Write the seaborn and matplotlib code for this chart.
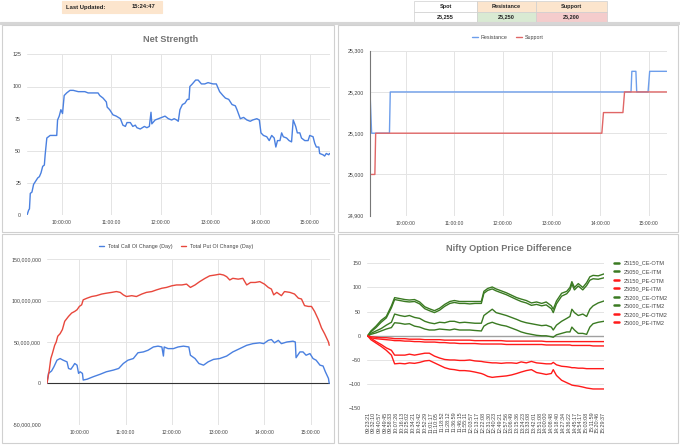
import pandas as pd
import matplotlib
matplotlib.use("Agg")
import matplotlib.pyplot as plt
import matplotlib.dates as mdates
from matplotlib.patches import Rectangle
from matplotlib.ticker import FuncFormatter, MultipleLocator
import seaborn as sns

# ---------------- data ----------------
# header cells
last_updated = "15:24:47"
table_headers = ["Spot", "Resistance", "Support"]
table_values = ["25,255", "25,250", "25,200"]

# Net Strength
ns_times = [
    "09:18", "09:20", "09:21", "09:22", "09:24", "09:26", "09:28", "09:31", "09:33", "09:35",
    "09:37", "09:39", "09:40", "09:42", "09:44", "09:46", "09:50", "09:54", "09:55", "09:57",
    "09:59", "10:01", "10:03", "10:06", "10:10", "10:14", "10:20", "10:24", "10:28", "10:32",
    "10:38", "10:44", "10:46", "10:50", "10:54", "10:55", "10:58", "11:02", "11:06", "11:11",
    "11:14", "11:17", "11:19", "11:23", "11:26", "11:29", "11:31", "11:35", "11:40", "11:43",
    "11:46", "11:48", "11:49", "11:53", "11:57", "12:01", "12:05", "12:09", "12:13", "12:16",
    "12:19", "12:21", "12:23", "12:26", "12:29", "12:32", "12:34", "12:35", "12:38", "12:42",
    "12:45", "12:49", "12:53", "12:57", "13:03", "13:07", "13:09", "13:11", "13:15", "13:18",
    "13:22", "13:24", "13:26", "13:30", "13:32", "13:36", "13:40", "13:44", "13:48", "13:51",
    "13:56", "13:59", "14:01", "14:04", "14:08", "14:11", "14:14", "14:17", "14:19", "14:21",
    "14:24", "14:26", "14:28", "14:32", "14:35", "14:38", "14:40", "14:43", "14:45", "14:48",
    "14:50", "14:54", "14:58", "15:00", "15:04", "15:06", "15:08", "15:11", "15:12", "15:16",
    "15:18", "15:20", "15:23", "15:24",
]
ns_values = [
    0, 4, 5, 17, 18, 24, 26, 29, 30, 33,
    38, 39, 47, 60, 61, 62, 62, 62, 74, 77,
    82, 79, 93, 95, 97, 97, 96, 96, 96, 95,
    95, 95, 93, 91, 88, 84, 82, 78, 77, 75,
    70, 69, 72, 72, 69, 70, 68, 67, 69, 68,
    69, 80, 71, 74, 75, 76, 77, 75, 74, 75,
    74, 73, 82, 86, 87, 90, 90, 100, 102, 105,
    105, 102, 102, 103, 102, 102, 99, 96, 93, 91,
    90, 88, 86, 85, 82, 75, 76, 74, 73, 74,
    75, 74, 64, 62, 61, 58, 62, 60, 53, 58,
    58, 64, 61, 60, 58, 57, 74, 69, 64, 64,
    60, 58, 58, 62, 61, 56, 53, 53, 48, 47,
    46, 48, 47, 48,
]

# Resistance / Support levels
res_times = ["09:16", "09:18", "09:40", "09:41", "14:38", "14:39", "14:44", "14:45", "14:59", "15:01", "15:22"]
res_values = [25200, 25100, 25100, 25200, 25200, 25250, 25250, 25200, 25200, 25250, 25250]
sup_times = ["09:16", "09:22", "09:23", "14:02", "14:04", "14:28", "14:30", "15:22"]
sup_values = [25000, 25000, 25100, 25100, 25150, 25150, 25200, 25200]

# Total OI change (in millions)
put_times = [
    "09:18", "09:21", "09:23", "09:25", "09:28", "09:30", "09:32", "09:35", "09:38", "09:41",
    "09:46", "09:50", "09:54", "09:57", "10:00", "10:03", "10:05", "10:10", "10:16", "10:22",
    "10:29", "10:35", "10:42", "10:48", "10:53", "10:57", "11:01", "11:08", "11:14", "11:21",
    "11:27", "11:34", "11:40", "11:47", "11:53", "12:00", "12:06", "12:13", "12:19", "12:24",
    "12:30", "12:36", "12:43", "12:49", "12:56", "13:02", "13:07", "13:11", "13:15", "13:19",
    "13:26", "13:32", "13:37", "13:42", "13:48", "13:54", "14:00", "14:05", "14:09", "14:12",
    "14:16", "14:22", "14:26", "14:33", "14:39", "14:44", "14:48", "14:52", "14:57", "15:01",
    "15:05", "15:10", "15:14", "15:18", "15:23", "15:24",
]
put_oi_mn = [
    0, 16, 30, 36, 46, 50, 57, 60, 65, 75,
    81, 85, 87, 89, 93, 95, 101, 103, 105, 106,
    108, 109, 110, 111, 110, 107, 105, 106, 105, 108,
    110, 111, 113, 115, 116, 118, 119, 119, 120, 116,
    119, 123, 127, 130, 131, 132, 131, 129, 125, 127,
    126, 127, 119, 122, 122, 123, 120, 116, 114, 107,
    110, 106, 111, 110, 108, 103, 102, 94, 93, 93,
    87, 77, 67, 60, 50, 46,
]
call_times = [
    "09:18", "09:20", "09:24", "09:27", "09:31", "09:35", "09:39", "09:44", "09:46", "09:49",
    "09:52", "09:54", "09:57", "09:59", "10:01", "10:04", "10:05", "10:10", "10:18", "10:27",
    "10:35", "10:44", "10:51", "10:57", "11:03", "11:10", "11:16", "11:23", "11:29", "11:36",
    "11:42", "11:47", "11:49", "11:50", "11:55", "12:02", "12:08", "12:15", "12:22", "12:24",
    "12:30", "12:35", "12:41", "12:47", "12:54", "13:02", "13:11", "13:19", "13:28", "13:37",
    "13:45", "13:54", "13:59", "14:05", "14:09", "14:13", "14:18", "14:22", "14:29", "14:37",
    "14:40", "14:41", "14:46", "14:50", "14:54", "14:59", "15:03", "15:07", "15:12", "15:16",
    "15:19", "15:23", "15:24",
]
call_oi_mn = [
    0, 12, 15, 20, 28, 30, 28, 26, 18, 17,
    21, 24, 22, 12, 14, 12, 4, 5, 8, 11,
    14, 16, 18, 24, 28, 30, 37, 38, 40, 44,
    45, 44, 33, 44, 42, 42, 44, 45, 44, 34,
    30, 24, 22, 26, 29, 30, 33, 38, 42, 46,
    48, 49, 48, 52, 53, 49, 52, 48, 50, 51,
    50, 31, 38, 38, 34, 36, 30, 28, 22, 21,
    14, 6, 0,
]

# Nifty option price difference
opt_times = [
    "09:23", "09:28", "09:36", "09:44", "09:52", "10:00", "10:05", "10:13", "10:21", "10:28",
    "10:36", "10:44", "10:52", "10:59", "11:07", "11:15", "11:23", "11:31", "11:38", "11:46",
    "11:54", "12:02", "12:10", "12:20", "12:24", "12:30", "12:37", "12:43", "12:51", "12:59",
    "13:07", "13:15", "13:22", "13:30", "13:38", "13:46", "13:54", "14:01", "14:09", "14:12",
    "14:17", "14:25", "14:33", "14:38", "14:41", "14:45", "14:51", "14:58", "15:04", "15:09",
    "15:14", "15:22", "15:31",
]
ce_25150_otm = [
    0, 5, 10, 15, 22, 28, 45, 42, 40, 42,
    38, 36, 30, 27, 25, 28, 27, 30, 30, 27,
    28, 27, 26, 26, 42, 48, 55, 48, 45, 42,
    38, 34, 30, 27, 25, 23, 21, 22, 18, 12,
    22, 30, 36, 40, 55, 48, 42, 45, 40, 55,
    62, 68, 72,
]
ce_25050_itm = [
    0, 8, 17, 28, 37, 58, 75, 73, 71, 70,
    71, 66, 56, 52, 48, 53, 61, 67, 69, 67,
    67, 66, 67, 67, 88, 94, 97, 93, 89, 85,
    80, 75, 71, 68, 63, 65, 62, 64, 56, 48,
    66, 82, 87, 95, 107, 95, 103, 95, 104, 115,
    118, 117, 120,
]
pe_25150_otm = [
    0, -5, -12, -18, -25, -30, -40, -40, -40, -38,
    -40, -38, -36, -36, -42, -46, -49, -50, -50, -51,
    -51, -50, -52, -53, -54, -55, -56, -56, -57, -56,
    -56, -57, -54, -56, -53, -56, -57, -58, -58, -55,
    -60, -63, -64, -65, -66, -66, -67, -67, -68, -68,
    -68, -68, -68,
]
pe_25050_itm = [
    0, -2, -3, -4, -4, -5, -6, -6, -6, -7,
    -7, -7, -8, -8, -8, -8, -9, -9, -9, -9,
    -9, -9, -10, -10, -10, -10, -10, -10, -10, -11,
    -11, -11, -11, -11, -11, -11, -11, -12, -12, -12,
    -12, -12, -12, -12, -12, -12, -12, -12, -12, -12,
    -12, -12, -12,
]
ce_25200_otm2 = [
    0, 3, 6, 10, 14, 17, 27, 26, 24, 25,
    20, 18, 14, 12, 12, 14, 13, 12, 14, 12,
    12, 12, 11, 10, 20, 25, 28, 25, 22, 20,
    16, 12, 8, 5, 3, 1, 0, 0, -2, -3,
    2, 5, 8, 8, 18, 12, 5, 5, 3, 18,
    25, 28, 30,
]
ce_25000_itm2 = [
    0, 10, 20, 32, 40, 62, 79, 77, 75, 74,
    75, 70, 60, 56, 52, 57, 65, 71, 73, 71,
    71, 71, 71, 71, 92, 98, 101, 97, 93, 89,
    84, 79, 76, 73, 68, 70, 67, 70, 62, 55,
    72, 88, 92, 100, 112, 100, 108, 100, 110, 122,
    125, 124, 128,
]
pe_25200_otm2 = [
    0, -8, -15, -22, -30, -40, -58, -57, -58, -56,
    -57, -55, -52, -51, -56, -61, -66, -69, -70, -72,
    -72, -73, -75, -78, -80, -84, -86, -85, -84, -83,
    -81, -78, -75, -72, -70, -76, -78, -80, -78, -70,
    -82, -92, -97, -100, -102, -103, -104, -106, -108, -109,
    -110, -110, -110,
]
pe_25000_itm2 = [
    0, -4, -6, -7, -8, -9, -10, -10, -11, -11,
    -12, -12, -13, -13, -13, -14, -14, -15, -15, -16,
    -16, -16, -16, -17, -17, -17, -17, -17, -17, -18,
    -18, -18, -18, -18, -18, -18, -18, -19, -19, -19,
    -19, -19, -19, -19, -20, -20, -20, -20, -20, -20,
    -21, -21, -21,
]
opt_series = [
    ("25150_CE-OTM", ce_25150_otm),
    ("25050_CE-ITM", ce_25050_itm),
    ("25150_PE-OTM", pe_25150_otm),
    ("25050_PE-ITM", pe_25050_itm),
    ("25200_CE-OTM2", ce_25200_otm2),
    ("25000_CE-ITM2", ce_25000_itm2),
    ("25200_PE-OTM2", pe_25200_otm2),
    ("25000_PE-ITM2", pe_25000_itm2),
]
opt_tick_labels = [
    "09:23:21", "09:32:10", "09:40:57", "09:49:45", "09:58:33", "10:07:26", "10:16:13", "10:25:02",
    "10:34:21", "10:43:42", "10:52:29", "11:01:17", "11:10:05", "11:18:52", "11:28:12", "11:36:59",
    "11:46:15", "11:55:11", "12:03:57", "12:13:17", "12:22:08", "12:31:30", "12:40:23", "12:49:21",
    "12:57:56", "13:06:49", "13:15:36", "13:24:23", "13:33:08", "13:42:01", "13:51:08", "14:00:00",
    "14:08:48", "14:18:40", "14:27:34", "14:36:22", "14:45:17", "14:54:17", "15:03:08", "15:11:59",
    "15:20:46", "15:29:37",
]

# ---------------- style ----------------
BLUE = "#4a80e0"
RED = "#e8473c"
GREEN = "#3a7a22"
PURE_RED = "#ff1a1a"
GRID = "#e4e4e4"
TXT = "#444444"

sns.set_theme(style="whitegrid")
plt.rcParams["font.family"] = ["Liberation Sans", "DejaVu Sans"]
plt.rcParams["axes.edgecolor"] = GRID

W, H = 680, 446
fig = plt.figure(figsize=(W / 100, H / 100), dpi=100)
fig.patch.set_facecolor("white")


def box(l, t, r, b):
    return [l / W, 1 - b / H, (r - l) / W, (b - t) / H]


def to_dt(times):
    return pd.to_datetime(["2025-01-02 " + t for t in times])


def rect(l, t, r, b, fc, ec="#d0d0d0", lw=0.8):
    fig.patches.append(Rectangle((l / W, 1 - b / H), (r - l) / W, (b - t) / H,
                                 transform=fig.transFigure, fc=fc, ec=ec, lw=lw, zorder=-10))


def ftext(x, y, s, **kw):
    fig.text(x / W, 1 - y / H, s, **kw)


# header strip
rect(62, 1, 162, 13, "#fce5cd", ec="#fce5cd")
ftext(66, 7, "Last Updated:", ha="left", va="center", fontsize=4.2, weight="bold", color="#222")
ftext(144, 7, last_updated, ha="center", va="center", fontsize=4.2, weight="bold", color="#222")
col_edges = [414, 477, 536, 607]
head_fc = ["white", "#fce5cd", "#fce5cd"]
val_fc = ["white", "#d9ead3", "#f4cccc"]
for i in range(3):
    l, r = col_edges[i], col_edges[i + 1]
    rect(l, 1, r, 12, head_fc[i], ec="#cfcfcf", lw=0.5)
    rect(l, 12, r, 22, val_fc[i], ec="#cfcfcf", lw=0.5)
    ftext((l + r) / 2, 6.5, table_headers[i], ha="center", va="center", fontsize=4.0, weight="bold", color="#222")
    ftext((l + r) / 2, 17, table_values[i], ha="center", va="center", fontsize=4.0, weight="bold", color="#222")
rect(0, 22, 680, 24, "#d6d6d6", ec="#d6d6d6")

# chart panels
rect(2, 25, 334, 232, "white")
rect(338, 25, 678, 232, "white")
rect(2, 234, 334, 443, "white")
rect(338, 234, 678, 443, "white")


def style_axis(ax, ysize=3.8, xsize=3.6):
    ax.set_facecolor("none")
    ax.set_zorder(2)
    for s in ax.spines.values():
        s.set_visible(False)
    ax.grid(True, color=GRID, lw=0.7)
    ax.tick_params(length=0, colors=TXT)
    ax.tick_params(axis="y", labelsize=ysize, pad=4)
    ax.tick_params(axis="x", labelsize=xsize, pad=3.5)
    ax.set_xlabel("")
    ax.set_ylabel("")


def time_axis(ax, start, end):
    ax.set_xlim(to_dt([start])[0], to_dt([end])[0])
    ax.xaxis.set_major_locator(mdates.HourLocator(byhour=range(10, 16)))
    ax.xaxis.set_major_formatter(mdates.DateFormatter("%H:%M:%S"))


def draw(ax, times, values, color, lw=1.0, scale=1):
    sns.lineplot(x=to_dt(times), y=[v * scale for v in values], ax=ax, color=color,
                 linewidth=lw, estimator=None, sort=False)
    return ax.lines[-1]


comma = FuncFormatter(lambda v, p: f"{v:,.0f}")

# --- Net Strength ---
ax1 = fig.add_axes(box(26.7, 54.3, 330, 215.3))
draw(ax1, ns_times, ns_values, BLUE, lw=1.0)
style_axis(ax1)
time_axis(ax1, "09:17:40", "15:24:30")
ax1.set_ylim(0, 125)
ax1.yaxis.set_major_locator(MultipleLocator(25))
ftext(171, 40, "Net Strength", ha="center", va="center", fontsize=6.6, weight="bold", color="#757575")

# --- Resistance / Support ---
ax2 = fig.add_axes(box(370, 50.7, 666.7, 215.7))
h_res = draw(ax2, res_times, res_values, "#6d9eeb", lw=1.0)
h_sup = draw(ax2, sup_times, sup_values, "#e06666", lw=1.0)
style_axis(ax2)
time_axis(ax2, "09:16", "15:22")
ax2.set_ylim(24900, 25300)
ax2.yaxis.set_major_locator(MultipleLocator(100))
ax2.yaxis.set_major_formatter(comma)
ax2.spines["left"].set_visible(True)
ax2.spines["left"].set_color("#777777")
ax2.spines["left"].set_linewidth(0.8)
fig.legend([h_res, h_sup], ["Resistance", "Support"], loc="center", bbox_to_anchor=(508 / W, 1 - 37.7 / H),
           ncol=2, frameon=False, fontsize=3.9, handlelength=1.0, columnspacing=1.6, handletextpad=0.6,
           labelcolor=TXT)

# --- Total OI change ---
ax3 = fig.add_axes(box(46.7, 259.3, 330, 424.7))
h_call = draw(ax3, call_times, call_oi_mn, BLUE, lw=1.0, scale=1e6)
h_put = draw(ax3, put_times, put_oi_mn, RED, lw=1.0, scale=1e6)
style_axis(ax3)
time_axis(ax3, "09:17:40", "15:25")
ax3.set_ylim(-50e6, 150e6)
ax3.yaxis.set_major_locator(MultipleLocator(50e6))
ax3.yaxis.set_major_formatter(comma)
ax3.axhline(0, color="#333333", lw=0.8, zorder=1)
fig.legend([h_call, h_put], ["Total Call OI Change (Day)", "Total Put OI Change (Day)"], loc="center",
           bbox_to_anchor=(176 / W, 1 - 246.7 / H), ncol=2, frameon=False, fontsize=3.9, handlelength=1.0,
           columnspacing=1.6, handletextpad=0.6, labelcolor=TXT)

# --- Nifty Option Price Difference ---
ax4 = fig.add_axes(box(366.7, 263.3, 604.3, 408.3))
handles = []
for name, vals in opt_series:
    color = GREEN if "_CE" in name else PURE_RED
    handles.append(draw(ax4, opt_times, vals, color, lw=1.0))
style_axis(ax4)
ax4.grid(False, axis="x")
ax4.axhline(0, color="#a0a0a0", lw=1.0, zorder=1)
ax4.set_ylim(-150, 150)
ax4.yaxis.set_major_locator(MultipleLocator(50))
tick_dt = to_dt(opt_tick_labels)
ax4.set_xticks(tick_dt)
ax4.set_xticklabels(opt_tick_labels, rotation=90, fontsize=3.9)
ax4.tick_params(axis="x", pad=2.5)
ax4.set_xlim(to_dt(["09:21:30"])[0], to_dt(["15:31:30"])[0])
ftext(508.8, 249, "Nifty Option Price Difference", ha="center", va="center", fontsize=6.6,
      weight="bold", color="#757575")
leg = fig.legend(handles, [n for n, _ in opt_series], loc="upper left", bbox_to_anchor=(612 / W, 1 - 258.5 / H),
                 frameon=False, fontsize=4.1, handlelength=0.9, handletextpad=0.8, labelspacing=0.62,
                 borderaxespad=0, labelcolor=TXT)
for line in leg.get_lines():
    line.set_linewidth(1.8)

fig.savefig("out.png", dpi=100, facecolor=fig.get_facecolor())
